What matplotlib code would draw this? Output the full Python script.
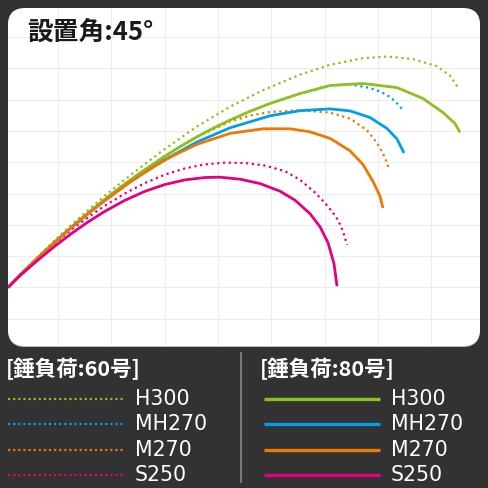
import numpy as np
import matplotlib
matplotlib.use("Agg")
import matplotlib.pyplot as plt
from matplotlib.patches import FancyBboxPatch
from matplotlib.lines import Line2D

# 錘負荷:60号 (dotted) / 80号 (solid) の飛行軌跡, 距離 x / 高さ y
models = ["H300", "MH270", "M270", "S250"]
colors = ["#8cc11f", "#00a0e9", "#ee7800", "#e4007f"]

h300_60_x = [0, 2.25, 5.63, 8.81, 12.0, 15.0, 18.19, 22.88, 29.06, 35.44, 41.63, 47.81, 54.75, 60.38,
             66.56, 71.06, 75.94, 80.44, 82.88, 84.38]
h300_60_y = [0, 4.12, 9.87, 15.14, 20.19, 24.73, 29.36, 35.81, 43.83, 51.44, 57.76, 63.04, 67.99, 71.15,
             73.26, 73.8, 72.97, 70.67, 67.67, 63.83]
mh270_60_x = [0, 2.25, 5.63, 8.81, 12.0, 15.0, 18.19, 21.38, 24.38, 29.06, 32.25, 35.44, 38.81, 41.63,
              45.38, 49.13, 54.75, 60.38, 64.13, 67.88, 69.75, 71.06, 72.56, 73.88]
mh270_60_y = [0, 3.99, 9.58, 14.63, 19.46, 23.8, 28.21, 32.4, 36.13, 41.57, 44.98, 48.15, 51.18, 53.48,
              56.29, 58.79, 61.95, 64.54, 64.92, 63.74, 62.62, 61.5, 59.58, 57.03]
m270_60_x = [0, 2.25, 5.63, 8.81, 12.0, 15.0, 18.19, 21.38, 24.38, 29.06, 32.25, 35.44, 41.63, 45.38,
             49.13, 54.75, 60.38, 64.13, 67.31, 69.38, 70.69, 71.44]
m270_60_y = [0, 3.99, 9.58, 14.63, 19.46, 23.8, 28.21, 32.4, 36.13, 41.57, 44.98, 48.15, 53.0, 54.92,
             56.07, 56.65, 55.88, 53.96, 50.26, 45.69, 41.44, 37.86]
s250_60_x = [0, 2.25, 5.63, 8.81, 12.0, 15.0, 18.19, 21.94, 25.69, 29.44, 33.19, 36.94, 40.69, 44.44,
             48.19, 51.94, 54.75, 57.56, 59.44, 60.94, 61.88, 62.81, 63.56]
s250_60_y = [0, 3.93, 9.33, 14.15, 18.59, 22.43, 26.17, 30.06, 33.39, 36.07, 38.05, 39.33, 39.9, 39.78,
             38.95, 37.16, 34.41, 30.35, 27.0, 23.87, 21.5, 18.05, 13.58]

h300_80_x = [0, 2.25, 5.63, 8.81, 12.0, 15.0, 18.19, 21.38, 24.38, 29.06, 32.25, 35.44, 38.81, 41.63,
             45.38, 49.13, 54.75, 60.38, 66.56, 72.94, 77.81, 81.56, 83.81, 84.75]
h300_80_y = [0, 3.99, 9.58, 14.63, 19.46, 23.8, 28.21, 32.4, 36.13, 41.57, 44.98, 48.15, 51.18, 53.48,
             56.29, 58.79, 61.95, 64.54, 65.18, 63.87, 60.38, 55.91, 52.4, 49.52]
mh270_80_x = [0, 2.25, 5.63, 8.81, 12.0, 15.0, 18.19, 22.88, 29.06, 35.44, 41.63, 49.13, 54.75, 60.38,
              64.13, 67.88, 71.06, 72.94, 74.25]
mh270_80_y = [0, 3.99, 9.52, 14.5, 19.3, 23.55, 27.83, 33.68, 40.51, 46.49, 51.02, 54.86, 56.49, 57.06,
              56.42, 54.31, 50.8, 47.44, 42.97]
m270_80_x = [0, 2.25, 5.63, 8.81, 12.0, 15.0, 18.19, 22.88, 26.63, 30.38, 35.44, 41.63, 47.81, 52.88,
             56.63, 60.38, 64.13, 66.56, 68.44, 69.75, 70.31]
m270_80_y = [0, 3.99, 9.52, 14.5, 19.3, 23.55, 27.83, 33.67, 37.89, 41.6, 45.75, 49.23, 50.7, 50.7,
             49.74, 47.64, 43.67, 39.3, 33.87, 29.17, 25.4]
s250_80_x = [0, 2.25, 5.63, 8.81, 12.0, 15.0, 18.19, 21.94, 25.69, 29.44, 33.19, 36.94, 39.75, 43.5,
             47.25, 51.0, 53.81, 56.63, 58.5, 60.0, 61.13, 61.69]
s250_80_y = [0, 3.77, 8.79, 13.23, 17.35, 20.93, 24.35, 27.86, 30.73, 32.91, 34.38, 35.14, 35.24, 34.6,
             33.2, 30.77, 27.89, 23.58, 19.42, 14.31, 7.6, 0.4]

dotted = [(h300_60_x, h300_60_y), (mh270_60_x, mh270_60_y), (m270_60_x, m270_60_y), (s250_60_x, s250_60_y)]
solid = [(h300_80_x, h300_80_y), (mh270_80_x, mh270_80_y), (m270_80_x, m270_80_y), (s250_80_x, s250_80_y)]

W = 488
fig = plt.figure(figsize=(4.88, 4.88), dpi=100, facecolor="#323232")

# 白いパネル (角丸)
px = lambda v: v / W
fig.add_artist(FancyBboxPatch((px(8), px(488 - 347)), px(472), px(338),
                              boxstyle="round,pad=0,rounding_size=0.035",
                              transform=fig.transFigure, fc="#bdbdbd", ec="none", zorder=-3))
fig.add_artist(FancyBboxPatch((px(8), px(488 - 346)), px(472), px(338),
                              boxstyle="round,pad=0,rounding_size=0.035",
                              transform=fig.transFigure, fc="white", ec="none", zorder=-2))

ax = fig.add_axes([px(8), px(488 - 346), px(472), px(338)])
ax.set_facecolor("none")
ax.set_xlim(0, 88.5)
ax.set_ylim(-18.7, 89.3)
ax.set_xticks(np.arange(9.4, 85, 10))
ax.set_yticks(np.arange(-10, 81, 10))
ax.grid(True, color="#ededed", lw=0.8)
ax.tick_params(length=0, labelbottom=False, labelleft=False)
for s in ax.spines.values():
    s.set_visible(False)

for (x, y), c in zip(dotted, colors):
    ax.plot(x, y, color=c, lw=1.6, linestyle=(0, (1, 1.6)), solid_joinstyle="round")
for (x, y), c in zip(solid, colors):
    ax.plot(x, y, color=c, lw=2.0, solid_capstyle="butt", solid_joinstyle="round")

fig.text(px(27), 1 - px(32), "設置角:45°", fontsize=18.5, fontweight="bold",
         family=["Noto Sans CJK JP", "DejaVu Sans"], color="#1a1a1a", va="center", ha="left")

# 凡例
fig.text(px(6), 1 - px(369), "[錘負荷:60号]", fontsize=15.5, fontweight="bold",
         family=["Noto Sans CJK JP", "DejaVu Sans"], color="white", va="center")
fig.text(px(260), 1 - px(369), "[錘負荷:80号]", fontsize=15.5, fontweight="bold",
         family=["Noto Sans CJK JP", "DejaVu Sans"], color="white", va="center")
fig.add_artist(Line2D([px(241), px(241)], [1 - px(353), 1 - px(482)], transform=fig.transFigure,
                      color="#8a8a8a", lw=1.2))

rows = [399, 424, 450, 475]
for name, c, yy in zip(models, colors, rows):
    yf = 1 - px(yy)
    fig.add_artist(Line2D([px(8), px(125)], [yf, yf], transform=fig.transFigure,
                          color=c, lw=1.6, linestyle=(0, (1, 1.3))))
    fig.add_artist(Line2D([px(264), px(380)], [yf, yf], transform=fig.transFigure,
                          color=c, lw=2.4, solid_capstyle="butt"))
    fig.text(px(135), yf, name, fontsize=14.8, color="white", va="center", ha="left")
    fig.text(px(391), yf, name, fontsize=14.8, color="white", va="center", ha="left")

fig.savefig("out.png", dpi=100, facecolor=fig.get_facecolor())
